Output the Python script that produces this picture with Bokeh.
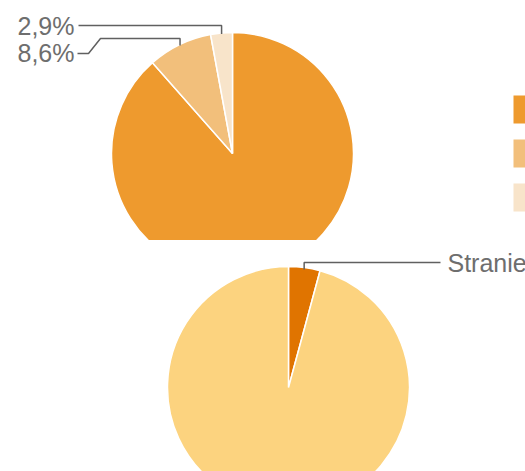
import math
from bokeh.plotting import figure
from bokeh.layouts import column
from bokeh.models import Range1d, ColumnDataSource
from bokeh.core.properties import value
from bokeh.embed import file_html
from bokeh.resources import INLINE

# ---- data ----
pie1_labels = ["88,5%", "8,6%", "2,9%"]
pie1_values = [88.5, 8.6, 2.9]
pie1_colors = ["#ee9a2e", "#f2bf7b", "#f8e4ca"]

pie2_labels = ["Straniero", "Italiano"]
pie2_values = [4.2, 95.8]
pie2_colors = ["#e07400", "#fcd37f"]

FONT = value("Liberation Sans")
TXT = "#6e6e6e"
LINE = "#606060"


def make_fig(y_top, y_bot):
    p = figure(width=525, height=y_bot - y_top,
               x_range=Range1d(0, 525), y_range=Range1d(-y_bot, -y_top),
               output_backend="svg", toolbar_location=None,
               x_axis_type=None, y_axis_type=None, min_border=0)
    p.grid.visible = False
    p.outline_line_color = None
    p.background_fill_color = "white"
    p.border_fill_color = "white"
    return p


def wedges(values):
    tot = sum(values)
    starts, ends, mids = [], [], []
    c = 0.0
    for v in values:
        c0 = c / tot
        c += v
        c1 = c / tot
        starts.append(math.pi / 2 - 2 * math.pi * c1)
        ends.append(math.pi / 2 - 2 * math.pi * c0)
        mids.append(math.pi / 2 - math.pi * (c0 + c1))
    return starts, ends, mids


def anchor(cx, cy, r, ang):
    return cx + r * math.cos(ang), -cy + r * math.sin(ang)


# ---- pie 1 ----
p1 = make_fig(0, 240)
cx1, cy1, r1 = 232, 153, 121
s, e, m = wedges(pie1_values)
p1.wedge(x=cx1, y=-cy1, radius=r1, start_angle="s", end_angle="e",
         fill_color="c", line_color="white", line_width=1.5,
         source=ColumnDataSource(dict(s=s, e=e, c=pie1_colors)))

# leader for 2,9%
ax, ay = anchor(cx1, cy1, r1 - 1, m[2])
p1.line(x=[ax, ax, 78], y=[ay, -25, -25], line_color=LINE, line_width=1.5)
p1.text(x=[74], y=[-25], text=[pie1_labels[2]], text_align="right",
        text_baseline="middle", text_font=FONT, text_font_size="25px",
        text_color=TXT)
# leader for 8,6%
bx, by = anchor(cx1, cy1, r1 - 1, m[1])
p1.line(x=[bx, bx, 100, 88, 77], y=[by, -38, -38, -53, -53],
        line_color=LINE, line_width=1.5)
p1.text(x=[74], y=[-52], text=[pie1_labels[1]], text_align="right",
        text_baseline="middle", text_font=FONT, text_font_size="25px",
        text_color=TXT)

# legend swatches (their labels lie beyond the visible area)
tops = [-(95 + 44 * i) for i in range(len(pie1_values))]
p1.quad(left=513, right=541, top=tops, bottom=[t - 28 for t in tops],
        fill_color=pie1_colors, line_color=None)

# ---- pie 2 ----
p2 = make_fig(240, 471)
cx2, cy2, r2 = 288, 387, 121
s2, e2, m2 = wedges(pie2_values)
p2.wedge(x=cx2, y=-cy2, radius=r2, start_angle="s", end_angle="e",
         fill_color="c", line_color="white", line_width=1.5,
         source=ColumnDataSource(dict(s=s2, e=e2, c=pie2_colors)))
qx, qy = anchor(cx2, cy2, r2 - 2, m2[0])
p2.line(x=[qx, qx, 440], y=[qy, -262, -262], line_color=LINE, line_width=1.5)
p2.text(x=[447], y=[-262], text=[pie2_labels[0]], text_align="left",
        text_baseline="middle", text_font=FONT, text_font_size="25px",
        text_color=TXT)

layout = column(p1, p2, spacing=0)
open("out.html", "w").write(file_html(layout, INLINE))
